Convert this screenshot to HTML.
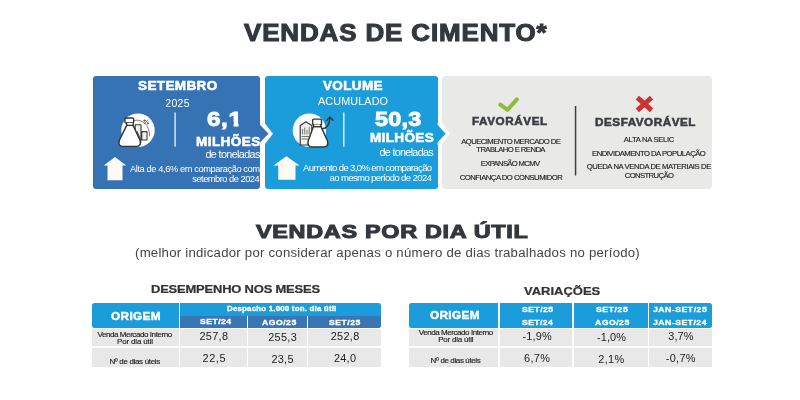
<!DOCTYPE html>
<html lang="pt-BR">
<head>
<meta charset="utf-8">
<title>Vendas de Cimento</title>
<style>
html,body{margin:0;padding:0;}
body{width:800px;height:400px;background:#fff;position:relative;overflow:hidden;font-family:"Liberation Sans",sans-serif;}
.abs{position:absolute;}
.t{position:absolute;white-space:nowrap;line-height:1;}
.box{position:absolute;}
#b1{left:92.5px;top:76px;width:167.5px;height:112.7px;background:#3573b5;border-radius:3px;}
#b2{left:264.5px;top:76px;width:173px;height:112.7px;background:#1b9ddc;border-radius:3px;}
#b3{left:442px;top:75.5px;width:270px;height:113.2px;background:#e9e9e8;border-radius:4px;}
.cell{position:absolute;}
.lb{background:#1b9ddc;}
.db{background:#3b76b4;}
.g{background:#e8e8e8;}
</style>
</head>
<body>
<!-- top boxes -->
<div id="b1" class="box"></div>
<div id="b2" class="box"></div>
<div id="b3" class="box"></div>
<svg class="abs" style="left:0;top:0" width="800" height="200" viewBox="0 0 800 200">
  <!-- chevrons -->
  <path d="M260 122.8 L264.4 122.8 L273 133.7 L264.4 144.7 L260 144.7 Z" fill="#fff"/>
  <path d="M258 124.8 L260 124.8 L268.5 133.7 L260 142.6 L258 142.6 Z" fill="#3573b5"/>
  <path d="M437.5 122.8 L441.9 122.8 L449.9 133.7 L441.9 144.7 L437.5 144.7 Z" fill="#fff"/>
  <path d="M436 124.8 L437.5 124.8 L445.6 133.7 L437.5 142.6 L436 142.6 Z" fill="#1b9ddc"/>
  <!-- box 1 -->
  <circle cx="138" cy="130.2" r="16.7" fill="#fff"/>
  <rect x="174.4" y="112.5" width="1.4" height="34.2" fill="#e4ecf5"/>
  <path d="M115 156.9 L126.25 165.6 L122.5 165.6 L122.5 180.25 L107.5 180.25 L107.5 165.6 L103.75 165.6 Z" fill="#fefaf6"/>
  <g fill="none" stroke="#333" stroke-width="1.4" stroke-linejoin="round" stroke-linecap="round">
    <path d="M134.5 120.5 C141 118.5 150 124 149.5 136" stroke="#8a6f60" stroke-width="0.9"/>
    <path d="M135.2 140 L135.2 124.8 L141 124.8 L141 140 M141.8 140 L141.8 131.6 L147 131.6 L147 140 L135.2 140" stroke="#3a3a3a" stroke-width="1.1" fill="#f3f1ef"/>
    <path d="M144.2 123.6 L147.6 120" stroke-width="0.8"/>
    <circle cx="144.4" cy="120.6" r="0.7" stroke-width="0.7"/>
    <circle cx="147.6" cy="123.2" r="0.7" stroke-width="0.7"/>
    <path d="M126.7 125.4 L119.5 140 Q117.4 146.4 123.2 146.4 L136.1 146.4 Q141.9 146.4 139.9 140 L133.1 125.4 Z" fill="#fff"/>
    <path d="M137.2 131.5 L140.6 139.6 Q141.6 143 140 144.6" stroke-width="0.9"/>
    <rect x="124.9" y="118" width="8.8" height="5" rx="1.2" fill="#fff"/>
    <path d="M126.6 123 L126.7 125.4 L133.1 125.4 L133.2 123" fill="#fff"/>
  </g>
  <!-- box 2 -->
  <circle cx="309.4" cy="130.3" r="16.7" fill="#fff"/>
  <rect x="343.1" y="112.5" width="1.4" height="34.2" fill="#e0f1fa"/>
  <path d="M286.4 156.25 L299.5 165.6 L295.5 165.6 L295.5 179.75 L278.25 179.75 L278.25 165.6 L273.5 165.6 Z" fill="#fefaf6"/>
  <g fill="none" stroke="#333" stroke-width="1.4" stroke-linejoin="round" stroke-linecap="round">
    <path d="M300.2 145 L300.2 125.6 L306 121.8 L311.8 125.6 L311.8 145 Z" fill="#f1efec" stroke="#3a3a3a" stroke-width="1.2"/>
    <path d="M302.6 134 L302.6 129.5 M304.8 134 L304.8 128 M307 134 L307 130.5 M309.2 134 L309.2 127.5 M302 136.5 L310 136.5 M302 139 L308 139" stroke="#555" stroke-width="0.8"/>
    <path d="M322.6 128.6 C327.4 128.2 329.4 124.2 329.8 118.6" stroke-width="1.4"/>
    <path d="M326.6 120.4 L329.9 117 L333 120.2" stroke-width="1.4"/>
    <path d="M313.4 126.6 L308.3 140.8 Q306.6 147 312.2 147 L323.5 147 Q329.1 147 327.4 140.8 L321 126.6 Z" fill="#fff"/>
    <rect x="312.6" y="119.1" width="8.9" height="5.5" rx="1.2" fill="#fff"/>
    <path d="M313.6 124.6 L313.4 126.6 L321 126.6 L320.8 124.6" fill="#fff"/>
  </g>
  <!-- box 3 -->
  <path d="M500.3 104.7 L507.4 109.9 L516.9 99.4" fill="none" stroke="#8cbd3f" stroke-width="4.1" stroke-linecap="round" stroke-linejoin="round"/>
  <rect x="574.8" y="106" width="1.5" height="69.5" fill="#3c4044"/>
  <path d="M639.2 99.2 L649.7 108.6 M649.7 99.2 L639.2 108.6" fill="none" stroke="#cc3333" stroke-width="5" stroke-linecap="square"/>
</svg>

<!-- table 1 -->
<div class="cell lb" style="left:91.5px;top:302.8px;width:87.60px;height:25.50px;border-radius:2.5px 0 0 2.5px;"></div>
<div class="cell lb" style="left:180.4px;top:302.8px;width:200.80px;height:13.30px;border-top-right-radius:2.5px;"></div>
<div class="cell db" style="left:180.4px;top:316.1px;width:66.40px;height:12.20px;"></div>
<div class="cell db" style="left:248.0px;top:316.1px;width:58.60px;height:12.20px;"></div>
<div class="cell db" style="left:307.8px;top:316.1px;width:73.40px;height:12.20px;border-bottom-right-radius:2.5px;"></div>
<div class="cell g" style="left:91.5px;top:328.6px;width:87.60px;height:17.60px;"></div>
<div class="cell g" style="left:180.4px;top:328.6px;width:66.40px;height:17.60px;"></div>
<div class="cell g" style="left:248.0px;top:328.6px;width:58.60px;height:17.60px;"></div>
<div class="cell g" style="left:307.8px;top:328.6px;width:73.40px;height:17.60px;"></div>
<div class="cell g" style="left:91.5px;top:348.0px;width:87.60px;height:19.40px;"></div>
<div class="cell g" style="left:180.4px;top:348.0px;width:66.40px;height:19.40px;"></div>
<div class="cell g" style="left:248.0px;top:348.0px;width:58.60px;height:19.40px;"></div>
<div class="cell g" style="left:307.8px;top:348.0px;width:73.40px;height:19.40px;"></div>

<!-- table 2 -->
<div class="cell lb" style="left:409.4px;top:302.8px;width:88.90px;height:25.50px;border-radius:2.5px 0 0 2.5px;"></div>
<div class="cell lb" style="left:499.8px;top:302.8px;width:72.50px;height:25.50px;"></div>
<div class="cell lb" style="left:573.7px;top:302.8px;width:74.10px;height:25.50px;"></div>
<div class="cell lb" style="left:649.2px;top:302.8px;width:63.30px;height:25.50px;border-radius:0 2.5px 2.5px 0;"></div>
<div class="cell g" style="left:409.4px;top:328.6px;width:88.90px;height:17.60px;"></div>
<div class="cell g" style="left:499.8px;top:328.6px;width:72.50px;height:17.60px;"></div>
<div class="cell g" style="left:573.7px;top:328.6px;width:74.10px;height:17.60px;"></div>
<div class="cell g" style="left:649.2px;top:328.6px;width:63.30px;height:17.60px;"></div>
<div class="cell g" style="left:409.4px;top:348.0px;width:88.90px;height:19.40px;"></div>
<div class="cell g" style="left:499.8px;top:348.0px;width:72.50px;height:19.40px;"></div>
<div class="cell g" style="left:573.7px;top:348.0px;width:74.10px;height:19.40px;"></div>
<div class="cell g" style="left:649.2px;top:348.0px;width:63.30px;height:19.40px;"></div>

<!-- texts -->
<div class="t" style="left:244.25px;top:22.00px;color:#33383e;font-family:'Liberation Sans', sans-serif;font-weight:bold;font-size:23.6px;letter-spacing:0.789px;-webkit-text-stroke:1.06px currentColor;transform:scaleX(1.1);transform-origin:0 0;">VENDAS DE CIMENTO*</div>
<div class="t" style="left:138.00px;top:79.50px;color:#fff;font-family:'Liberation Sans', sans-serif;font-weight:bold;font-size:12.5px;letter-spacing:0.364px;-webkit-text-stroke:0.56px currentColor;transform:scaleX(1.08);transform-origin:0 0;">SETEMBRO</div>
<div class="t" style="left:165.25px;top:97.80px;color:#fff;font-family:'Liberation Sans', sans-serif;font-weight:normal;font-size:10.5px;letter-spacing:0.333px;">2025</div>
<div class="t" style="left:207.25px;top:109.50px;color:#fff;font-family:'Liberation Sans', sans-serif;font-weight:bold;font-size:19.5px;letter-spacing:0.504px;-webkit-text-stroke:0.88px currentColor;transform:scaleX(1.24);transform-origin:0 0;">6,<span style="display:inline-block;clip-path:polygon(-10% -10%,110% -10%,110% 62%,71% 62%,71% 110%,37.5% 110%,37.5% 62%,-10% 62%)">1</span></div>
<div class="t" style="left:195.50px;top:135.75px;color:#fff;font-family:'Liberation Sans', sans-serif;font-weight:bold;font-size:12.5px;letter-spacing:0.424px;-webkit-text-stroke:0.56px currentColor;transform:scaleX(1.08);transform-origin:0 0;">MILHÕES</div>
<div class="t" style="left:205.50px;top:149.30px;color:#fff;font-family:'Liberation Sans', sans-serif;font-weight:normal;font-size:10.8px;letter-spacing:-0.636px;">de toneladas</div>
<div class="t" style="left:130.00px;top:164.80px;color:#fff;font-family:'Liberation Sans', sans-serif;font-weight:normal;font-size:9.3px;letter-spacing:-0.414px;">Alta de 4,6% em comparação com</div>
<div class="t" style="left:192.25px;top:175.00px;color:#fff;font-family:'Liberation Sans', sans-serif;font-weight:normal;font-size:9.3px;letter-spacing:-0.500px;">setembro de 2024</div>
<div class="t" style="left:323.25px;top:79.75px;color:#fff;font-family:'Liberation Sans', sans-serif;font-weight:bold;font-size:12.5px;letter-spacing:0.324px;-webkit-text-stroke:0.56px currentColor;transform:scaleX(1.08);transform-origin:0 0;">VOLUME</div>
<div class="t" style="left:318.00px;top:96.30px;color:#fff;font-family:'Liberation Sans', sans-serif;font-weight:normal;font-size:10.8px;letter-spacing:0.125px;">ACUMULADO</div>
<div class="t" style="left:375.00px;top:109.50px;color:#fff;font-family:'Liberation Sans', sans-serif;font-weight:bold;font-size:19.5px;letter-spacing:0.208px;-webkit-text-stroke:0.88px currentColor;transform:scaleX(1.2);transform-origin:0 0;">50,3</div>
<div class="t" style="left:369.50px;top:132.25px;color:#fff;font-family:'Liberation Sans', sans-serif;font-weight:bold;font-size:12.5px;letter-spacing:0.347px;-webkit-text-stroke:0.56px currentColor;transform:scaleX(1.08);transform-origin:0 0;">MILHÕES</div>
<div class="t" style="left:379.45px;top:147.10px;color:#fff;font-family:'Liberation Sans', sans-serif;font-weight:normal;font-size:10.8px;letter-spacing:-0.686px;">de toneladas</div>
<div class="t" style="left:303.02px;top:163.00px;color:#fff;font-family:'Liberation Sans', sans-serif;font-weight:normal;font-size:9.6px;letter-spacing:-0.664px;">Aumento de 3,0% em comparação</div>
<div class="t" style="left:329.52px;top:173.00px;color:#fff;font-family:'Liberation Sans', sans-serif;font-weight:normal;font-size:9.6px;letter-spacing:-0.650px;">ao mesmo período de 2024</div>
<div class="t" style="left:472.00px;top:117.25px;color:#3a3e42;font-family:'Liberation Sans', sans-serif;font-weight:bold;font-size:10px;letter-spacing:0.481px;-webkit-text-stroke:0.50px currentColor;transform:scaleX(1.17);transform-origin:0 0;">FAVORÁVEL</div>
<div class="t" style="left:594.50px;top:118.45px;color:#3a3e42;font-family:'Liberation Sans', sans-serif;font-weight:bold;font-size:10px;letter-spacing:0.447px;-webkit-text-stroke:0.50px currentColor;transform:scaleX(1.17);transform-origin:0 0;">DESFAVORÁVEL</div>
<div class="t" style="left:461.25px;top:138.40px;color:#1e1e1e;font-family:'Liberation Sans', sans-serif;font-weight:normal;font-size:7.7px;letter-spacing:-0.560px;-webkit-text-stroke:0.15px currentColor;">AQUECIMENTO MERCADO DE</div>
<div class="t" style="left:476.25px;top:146.40px;color:#1e1e1e;font-family:'Liberation Sans', sans-serif;font-weight:normal;font-size:7.7px;letter-spacing:-0.567px;-webkit-text-stroke:0.15px currentColor;">TRABLAHO E RENDA</div>
<div class="t" style="left:480.75px;top:160.25px;color:#1e1e1e;font-family:'Liberation Sans', sans-serif;font-weight:normal;font-size:7.7px;letter-spacing:-0.667px;-webkit-text-stroke:0.15px currentColor;">EXPANSÃO MCMV</div>
<div class="t" style="left:459.75px;top:174.00px;color:#1e1e1e;font-family:'Liberation Sans', sans-serif;font-weight:normal;font-size:7.7px;letter-spacing:-0.500px;-webkit-text-stroke:0.15px currentColor;">CONFIANÇA DO CONSUMIDOR</div>
<div class="t" style="left:623.75px;top:135.75px;color:#1e1e1e;font-family:'Liberation Sans', sans-serif;font-weight:normal;font-size:7.7px;letter-spacing:-0.312px;-webkit-text-stroke:0.15px currentColor;">ALTA NA SELIC</div>
<div class="t" style="left:592.00px;top:149.50px;color:#1e1e1e;font-family:'Liberation Sans', sans-serif;font-weight:normal;font-size:7.7px;letter-spacing:-0.500px;-webkit-text-stroke:0.15px currentColor;">ENDIVIDAMENTO DA POPULAÇÃO</div>
<div class="t" style="left:586.75px;top:163.25px;color:#1e1e1e;font-family:'Liberation Sans', sans-serif;font-weight:normal;font-size:7.7px;letter-spacing:-0.397px;-webkit-text-stroke:0.15px currentColor;">QUEDA NA VENDA DE MATERIAIS DE</div>
<div class="t" style="left:624.75px;top:171.50px;color:#1e1e1e;font-family:'Liberation Sans', sans-serif;font-weight:normal;font-size:7.7px;letter-spacing:-0.611px;-webkit-text-stroke:0.15px currentColor;">CONSTRUÇÃO</div>
<div class="t" style="left:255.75px;top:221.50px;color:#33383e;font-family:'Liberation Sans', sans-serif;font-weight:bold;font-size:19.2px;letter-spacing:0.569px;-webkit-text-stroke:1.06px currentColor;transform:scaleX(1.22);transform-origin:0 0;">VENDAS POR DIA ÚTIL</div>
<div class="t" style="left:134.75px;top:247.00px;color:#444;font-family:'Liberation Sans', sans-serif;font-weight:normal;font-size:12px;letter-spacing:0.210px;transform:scaleX(1.1);transform-origin:0 0;">(melhor indicador por considerar apenas o número de dias trabalhados no período)</div>
<div class="t" style="left:151.25px;top:283.75px;color:#333;font-family:'Liberation Sans', sans-serif;font-weight:bold;font-size:11.8px;letter-spacing:-0.191px;-webkit-text-stroke:0.24px currentColor;transform:scaleX(1.1);transform-origin:0 0;">DESEMPENHO NOS MESES</div>
<div class="t" style="left:523.75px;top:285.75px;color:#333;font-family:'Liberation Sans', sans-serif;font-weight:bold;font-size:11.8px;letter-spacing:0.000px;-webkit-text-stroke:0.24px currentColor;transform:scaleX(1.1);transform-origin:0 0;">VARIAÇÕES</div>
<div class="t" style="left:111.30px;top:311.45px;color:#fff;font-family:'Liberation Sans', sans-serif;font-weight:bold;font-size:10.5px;letter-spacing:0.348px;-webkit-text-stroke:0.47px currentColor;transform:scaleX(1.12);transform-origin:0 0;">ORIGEM</div>
<div class="t" style="left:227.25px;top:305.00px;color:#fff;font-family:'Liberation Sans', sans-serif;font-weight:bold;font-size:7.3px;letter-spacing:0.189px;-webkit-text-stroke:0.33px currentColor;transform:scaleX(1.08);transform-origin:0 0;">Despacho 1.000 ton. dia útil</div>
<div class="t" style="left:200.00px;top:318.35px;color:#fff;font-family:'Liberation Sans', sans-serif;font-weight:bold;font-size:8px;letter-spacing:0.417px;-webkit-text-stroke:0.36px currentColor;transform:scaleX(1.08);transform-origin:0 0;">SET/24</div>
<div class="t" style="left:262.00px;top:318.65px;color:#fff;font-family:'Liberation Sans', sans-serif;font-weight:bold;font-size:8px;letter-spacing:0.463px;-webkit-text-stroke:0.36px currentColor;transform:scaleX(1.08);transform-origin:0 0;">AGO/25</div>
<div class="t" style="left:328.75px;top:318.65px;color:#fff;font-family:'Liberation Sans', sans-serif;font-weight:bold;font-size:8px;letter-spacing:0.463px;-webkit-text-stroke:0.36px currentColor;transform:scaleX(1.08);transform-origin:0 0;">SET/25</div>
<div class="t" style="left:97.50px;top:331.00px;color:#1e1e1e;font-family:'Liberation Sans', sans-serif;font-weight:normal;font-size:8px;letter-spacing:-0.425px;-webkit-text-stroke:0.16px currentColor;">Venda Mercado Interno</div>
<div class="t" style="left:117.00px;top:338.10px;color:#1e1e1e;font-family:'Liberation Sans', sans-serif;font-weight:normal;font-size:8px;letter-spacing:-0.159px;-webkit-text-stroke:0.16px currentColor;">Por dia útil</div>
<div class="t" style="left:109.38px;top:358.40px;color:#1e1e1e;font-family:'Liberation Sans', sans-serif;font-weight:normal;font-size:8px;letter-spacing:-0.333px;-webkit-text-stroke:0.16px currentColor;">Nº de dias úteis</div>
<div class="t" style="left:199.50px;top:331.00px;color:#1c1c1c;font-family:'Liberation Sans', sans-serif;font-weight:normal;font-size:10.9px;letter-spacing:0.312px;">257,8</div>
<div class="t" style="left:268.25px;top:331.50px;color:#1c1c1c;font-family:'Liberation Sans', sans-serif;font-weight:normal;font-size:10.9px;letter-spacing:0.312px;">255,3</div>
<div class="t" style="left:330.75px;top:330.50px;color:#1c1c1c;font-family:'Liberation Sans', sans-serif;font-weight:normal;font-size:10.9px;letter-spacing:0.312px;">252,8</div>
<div class="t" style="left:202.50px;top:353.00px;color:#1c1c1c;font-family:'Liberation Sans', sans-serif;font-weight:normal;font-size:10.9px;letter-spacing:0.583px;">22,5</div>
<div class="t" style="left:271.50px;top:353.50px;color:#1c1c1c;font-family:'Liberation Sans', sans-serif;font-weight:normal;font-size:10.9px;letter-spacing:0.250px;">23,5</div>
<div class="t" style="left:334.00px;top:352.50px;color:#1c1c1c;font-family:'Liberation Sans', sans-serif;font-weight:normal;font-size:10.9px;letter-spacing:0.250px;">24,0</div>
<div class="t" style="left:429.75px;top:309.85px;color:#fff;font-family:'Liberation Sans', sans-serif;font-weight:bold;font-size:10.5px;letter-spacing:0.312px;-webkit-text-stroke:0.47px currentColor;transform:scaleX(1.12);transform-origin:0 0;">ORIGEM</div>
<div class="t" style="left:522.00px;top:306.15px;color:#fff;font-family:'Liberation Sans', sans-serif;font-weight:bold;font-size:8px;letter-spacing:0.417px;-webkit-text-stroke:0.36px currentColor;transform:scaleX(1.08);transform-origin:0 0;">SET/25</div>
<div class="t" style="left:522.00px;top:319.25px;color:#fff;font-family:'Liberation Sans', sans-serif;font-weight:bold;font-size:8px;letter-spacing:0.370px;-webkit-text-stroke:0.36px currentColor;transform:scaleX(1.08);transform-origin:0 0;">SET/24</div>
<div class="t" style="left:596.25px;top:305.85px;color:#fff;font-family:'Liberation Sans', sans-serif;font-weight:bold;font-size:8px;letter-spacing:0.556px;-webkit-text-stroke:0.36px currentColor;transform:scaleX(1.08);transform-origin:0 0;">SET/25</div>
<div class="t" style="left:594.50px;top:319.25px;color:#fff;font-family:'Liberation Sans', sans-serif;font-weight:bold;font-size:8px;letter-spacing:0.463px;-webkit-text-stroke:0.36px currentColor;transform:scaleX(1.08);transform-origin:0 0;">AGO/25</div>
<div class="t" style="left:652.50px;top:305.85px;color:#fff;font-family:'Liberation Sans', sans-serif;font-weight:bold;font-size:8px;letter-spacing:0.489px;-webkit-text-stroke:0.36px currentColor;transform:scaleX(1.08);transform-origin:0 0;">JAN-SET/25</div>
<div class="t" style="left:652.50px;top:319.25px;color:#fff;font-family:'Liberation Sans', sans-serif;font-weight:bold;font-size:8px;letter-spacing:0.463px;-webkit-text-stroke:0.36px currentColor;transform:scaleX(1.08);transform-origin:0 0;">JAN-SET/24</div>
<div class="t" style="left:418.75px;top:328.80px;color:#1e1e1e;font-family:'Liberation Sans', sans-serif;font-weight:normal;font-size:8px;letter-spacing:-0.438px;-webkit-text-stroke:0.16px currentColor;">Venda Mercado Interno</div>
<div class="t" style="left:438.25px;top:336.00px;color:#1e1e1e;font-family:'Liberation Sans', sans-serif;font-weight:normal;font-size:8px;letter-spacing:-0.227px;-webkit-text-stroke:0.16px currentColor;">Por dia útil</div>
<div class="t" style="left:430.62px;top:356.60px;color:#1e1e1e;font-family:'Liberation Sans', sans-serif;font-weight:normal;font-size:8px;letter-spacing:-0.383px;-webkit-text-stroke:0.16px currentColor;">Nº de dias úteis</div>
<div class="t" style="left:522.50px;top:331.00px;color:#1c1c1c;font-family:'Liberation Sans', sans-serif;font-weight:normal;font-size:10.9px;letter-spacing:0.188px;">-1,9%</div>
<div class="t" style="left:597.00px;top:331.75px;color:#1c1c1c;font-family:'Liberation Sans', sans-serif;font-weight:normal;font-size:10.9px;letter-spacing:0.125px;">-1,0%</div>
<div class="t" style="left:668.25px;top:330.50px;color:#1c1c1c;font-family:'Liberation Sans', sans-serif;font-weight:normal;font-size:10.9px;letter-spacing:0.083px;">3,7%</div>
<div class="t" style="left:524.00px;top:353.00px;color:#1c1c1c;font-family:'Liberation Sans', sans-serif;font-weight:normal;font-size:10.9px;letter-spacing:0.333px;">6,7%</div>
<div class="t" style="left:598.25px;top:353.50px;color:#1c1c1c;font-family:'Liberation Sans', sans-serif;font-weight:normal;font-size:10.9px;letter-spacing:0.333px;">2,1%</div>
<div class="t" style="left:665.75px;top:352.50px;color:#1c1c1c;font-family:'Liberation Sans', sans-serif;font-weight:normal;font-size:10.9px;letter-spacing:0.312px;">-0,7%</div>
</body>
</html>
